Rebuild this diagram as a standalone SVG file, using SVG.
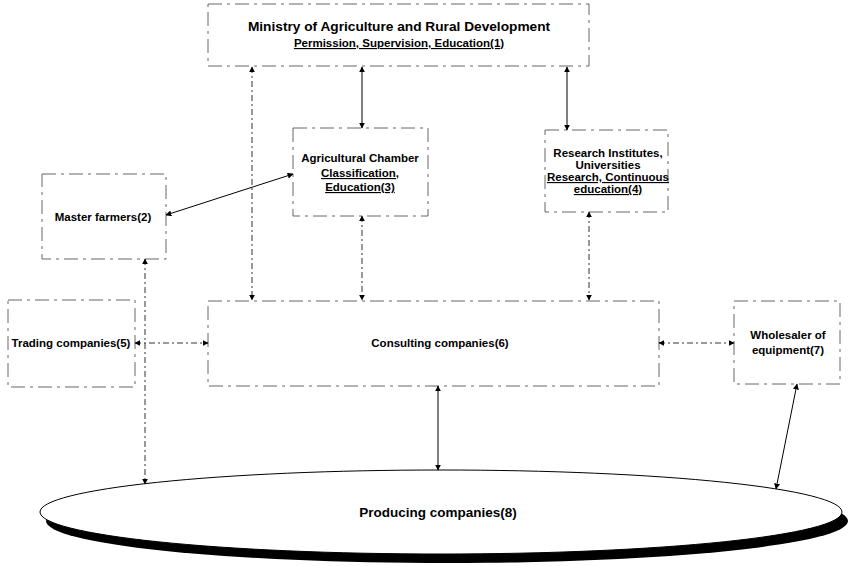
<svg xmlns="http://www.w3.org/2000/svg" width="854" height="566" viewBox="0 0 854 566">
<defs>
<marker id="ah" viewBox="0 0 10 10" refX="9" refY="5" markerWidth="6" markerHeight="6" markerUnits="userSpaceOnUse" orient="auto-start-reverse">
<path d="M0,0 L10,5 L0,10 z" fill="#000"/>
</marker>
<style>
.box{fill:#fff;stroke:#666;stroke-width:1;stroke-dasharray:14 5 3 5}
.t{font-family:"Liberation Sans",Arial,sans-serif;font-weight:bold;font-size:11.5px;fill:#000;text-anchor:middle}
.u{text-decoration:underline}
.c{fill:none;stroke:#000;stroke-width:1;marker-start:url(#ah);marker-end:url(#ah)}
.d{fill:none;stroke:#333;stroke-width:1;stroke-dasharray:6 3 2 3;marker-start:url(#ah);marker-end:url(#ah)}
</style>
</defs>
<rect width="854" height="566" fill="#fff"/>
<g id="n1">
<rect class="box" x="208" y="4" width="381" height="62"/>
<text class="t" x="399" y="31" style="font-size:13.7px">Ministry of Agriculture and Rural Development</text>
<text class="t u" x="399" y="47">Permission, Supervision, Education(1)</text>
</g>
<g id="n3">
<rect class="box" x="293" y="128" width="135" height="88"/>
<text class="t" x="360" y="162">Agricultural Chamber</text>
<text class="t u" x="360" y="177">Classification,</text>
<text class="t u" x="360" y="191">Education(3)</text>
</g>
<g id="n4">
<rect class="box" x="545" y="130" width="123" height="82"/>
<text class="t" x="608" y="157">Research Institutes,</text>
<text class="t" x="608" y="169">Universities</text>
<text class="t u" x="608" y="181">Research, Continuous</text>
<text class="t u" x="608" y="193">education(4)</text>
</g>
<g id="n2">
<rect class="box" x="42" y="174" width="124" height="85"/>
<text class="t" x="103" y="221">Master farmers(2)</text>
</g>
<g id="n5">
<rect class="box" x="8" y="300" width="127" height="87"/>
<text class="t" x="71" y="347">Trading companies(5)</text>
</g>
<g id="n6">
<rect class="box" x="208" y="301" width="451" height="85"/>
<text class="t" x="440" y="347">Consulting companies(6)</text>
</g>
<g id="n7">
<rect class="box" x="734" y="301" width="106" height="83"/>
<text class="t" x="788" y="339">Wholesaler of</text>
<text class="t" x="788" y="354">equipment(7)</text>
</g>
<g id="n8">
<ellipse cx="447" cy="521" rx="401" ry="42" fill="#000"/>
<ellipse cx="441" cy="512" rx="401" ry="42" fill="#fff" stroke="#000" stroke-width="1"/>
<text class="t" x="438" y="517" style="font-size:13.5px">Producing companies(8)</text>
</g>
<g id="connectors">
<line class="c" x1="362" y1="67" x2="362" y2="128"/>
<line class="c" x1="567" y1="67" x2="567" y2="130"/>
<line class="d" x1="252" y1="67" x2="252" y2="300"/>
<line class="c" x1="293" y1="174" x2="166" y2="215"/>
<line class="d" x1="362" y1="216" x2="362" y2="300"/>
<line class="d" x1="589" y1="212" x2="589" y2="300"/>
<line class="d" x1="145" y1="259" x2="145" y2="484"/>
<line class="d" x1="135" y1="343" x2="208" y2="343"/>
<line class="d" x1="659" y1="343" x2="734" y2="343"/>
<line class="c" x1="438" y1="386" x2="438" y2="470"/>
<line class="c" x1="797" y1="384" x2="776" y2="489"/>
</g>
</svg>
